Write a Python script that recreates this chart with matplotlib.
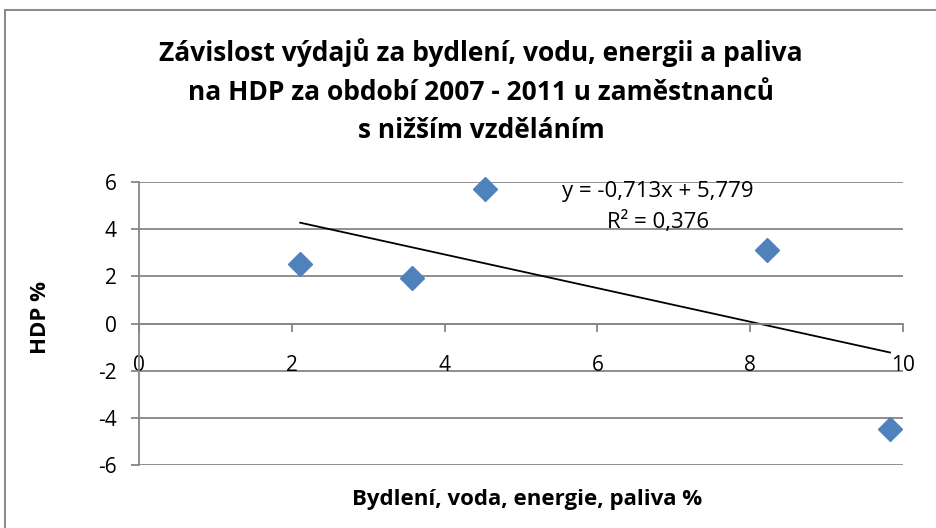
import matplotlib
matplotlib.use("Agg")
import matplotlib.pyplot as plt
import numpy as np
from matplotlib.patches import Rectangle

# data
bydleni = [2.11, 3.57, 4.53, 8.22, 9.83]
hdp = [2.52, 1.93, 5.70, 3.11, -4.47]
slope = -0.713
intercept = 5.779
r2 = 0.376

title_lines = [
    "Závislost výdajů za bydlení, vodu, energii a paliva",
    "na HDP za období 2007 - 2011 u zaměstnanců",
    "s nižším vzděláním",
]
x_ticks = [0, 2, 4, 6, 8, 10]
y_ticks = [-6, -4, -2, 0, 2, 4, 6]

GRID = "#868686"
BLUE = "#4F81BD"

plt.rcParams["font.family"] = ["Open Sans", "DejaVu Sans"]
plt.rcParams["axes.unicode_minus"] = False

fig = plt.figure(figsize=(9.36, 5.28), dpi=100)
fig.patches.append(Rectangle((5 / 936, -0.1), 2, 0.1 + 1 - 10 / 528,
                             transform=fig.transFigure, fill=False,
                             edgecolor="#8c8c8c", linewidth=1.5))

for i, line in enumerate(title_lines):
    fig.text(481 / 936, 1 - (53 + 39 * i) / 528, line, ha="center", va="center",
             fontsize=19, fontweight="bold")

ax = fig.add_axes([139 / 936, 1 - 465 / 528, 764 / 936, 283 / 528])
ax.set_xlim(0, 10)
ax.set_ylim(-6, 6)

for yv in y_ticks:
    ax.axhline(yv, color=GRID, linewidth=1.3, zorder=1)

ax.spines[["top", "right"]].set_visible(False)
ax.spines["bottom"].set_position(("data", 0))
for s in ("left", "bottom"):
    ax.spines[s].set_color(GRID)
    ax.spines[s].set_linewidth(1.3)

ax.set_xticks(x_ticks)
ax.set_yticks(y_ticks)
ax.set_xticklabels([str(v) for v in x_ticks])
ax.set_yticklabels([str(v) for v in y_ticks])
ax.tick_params(axis="x", direction="out", length=6, width=1.3, color=GRID,
               pad=17, labelsize=15)
ax.tick_params(axis="y", direction="out", length=6, width=1.3, color=GRID,
               pad=10, labelsize=15)

ax.plot(bydleni, hdp, linestyle="none", marker="D", markersize=12,
        color=BLUE, zorder=3, clip_on=False)

xs = np.array([min(bydleni), max(bydleni)])
ax.plot(xs, slope * xs + intercept, color="black", linewidth=1.3, zorder=2)

eq = f"y = {slope:.3f}x + {intercept:.3f}\nR² = {r2:.3f}".replace(".", ",")
ax.text(6.79, 4.95, eq, ha="center", va="center", fontsize=16, linespacing=1.5)

fig.text(40 / 936, 1 - 318 / 528, "HDP %", rotation=90, ha="center", va="center",
         fontsize=16, fontweight="bold")
fig.text(527 / 936, 1 - 500 / 528, "Bydlení, voda, energie, paliva %",
         ha="center", va="center", fontsize=16, fontweight="bold")

fig.savefig("out.png", dpi=100)
